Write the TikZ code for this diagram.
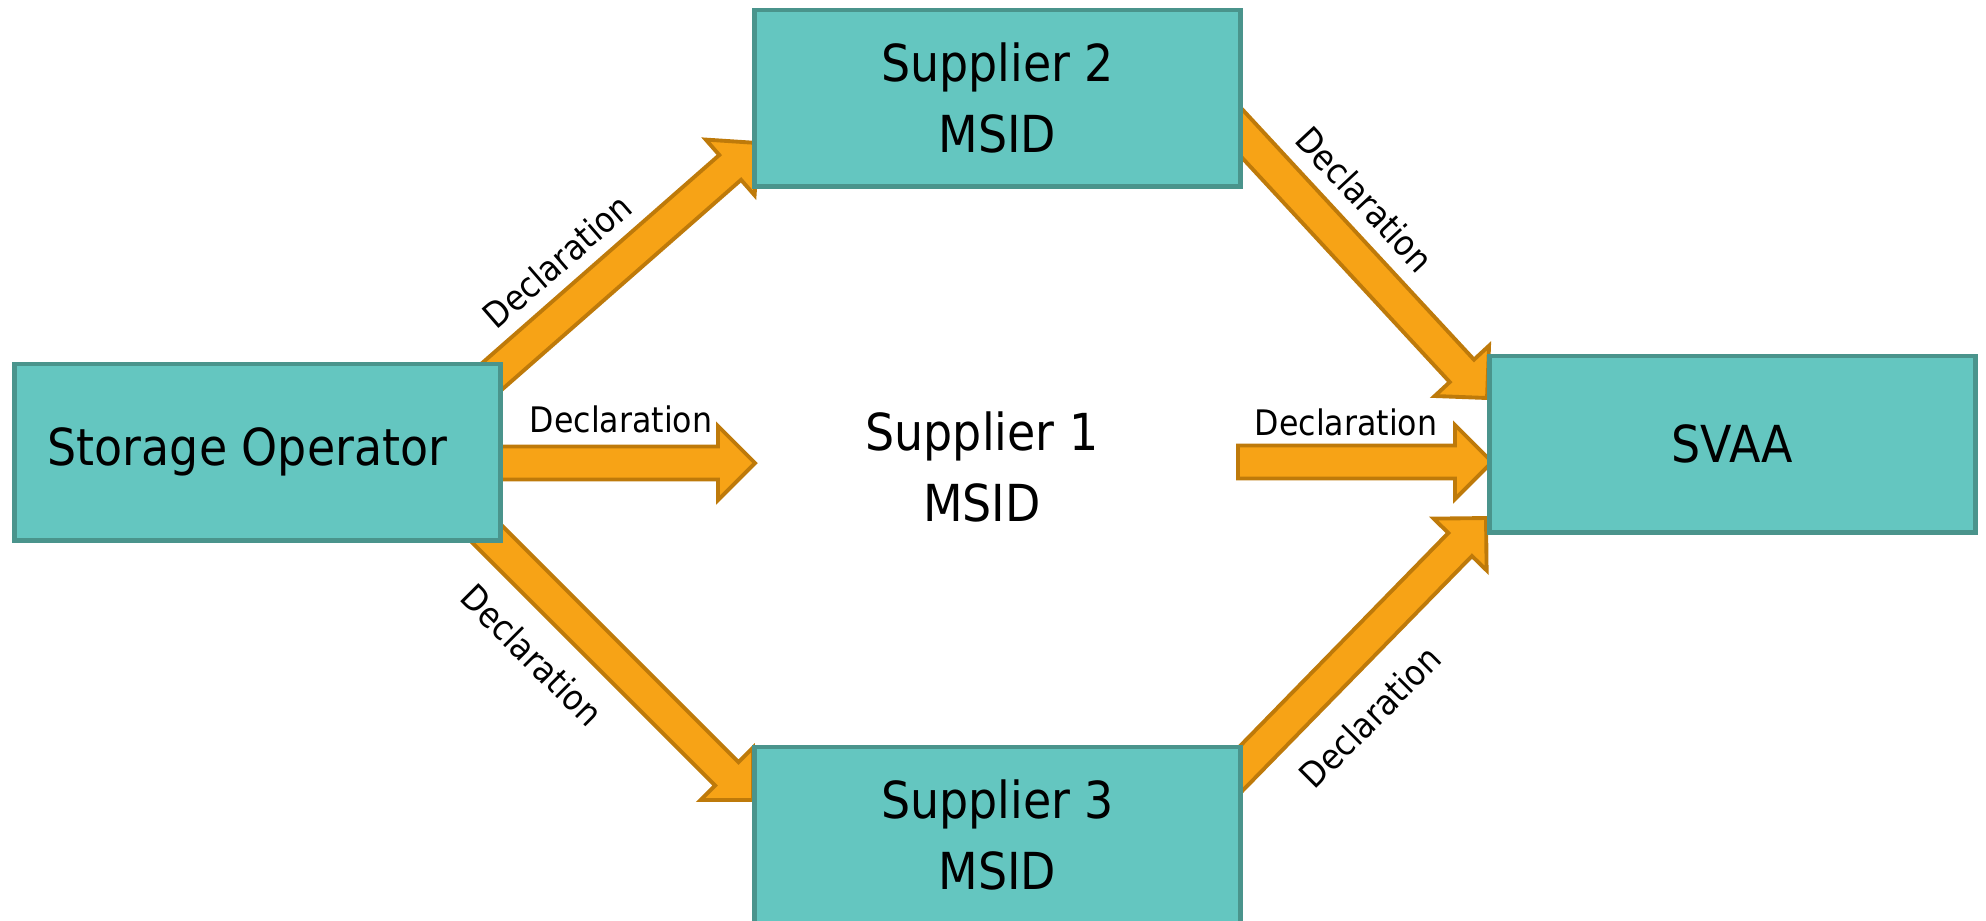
\documentclass[tikz,border=0pt]{standalone}
\usepackage{fontspec}
\setmainfont{DejaVu Sans Condensed}
\usetikzlibrary{calc, positioning}
\definecolor{boxfill}{RGB}{100,198,192}
\definecolor{boxline}{RGB}{74,148,140}
\definecolor{arrfill}{RGB}{247,163,22}
\definecolor{arrline}{RGB}{190,122,10}
\pgfdeclarelayer{back}
\pgfsetlayers{back,main}
\tikzset{party/.style={draw=boxline, fill=boxfill, line width=1.4pt, inner sep=0pt,
        minimum width=4.86cm, minimum height=1.76cm, align=center,
        font=\fontsize{14.5}{20.2}\selectfont},
    decl/.style={inner sep=0pt, font=\fontsize{10}{12}\selectfont},
    blk/.style={draw=arrline, fill=arrfill, line width=1.1pt, line join=miter}}
\newcommand{\blockarrow}[2]{%
    \coordinate (hb) at ($(#2)!0.37cm!(#1)$);
    \draw[blk] ($(#1)!0.165cm!90:(#2)$) -- ($(hb)!0.165cm!90:(#2)$)
        -- ($(hb)!0.37cm!90:(#2)$) -- (#2) -- ($(hb)!0.37cm!-90:(#2)$)
        -- ($(hb)!0.165cm!-90:(#2)$) -- ($(#1)!0.165cm!-90:(#2)$) -- cycle;}

\begin{document}
\begin{tikzpicture}[x=0.01cm, y=-0.01cm]
    \useasboundingbox (0,0) rectangle (1986,920);
    \clip (0,0) rectangle (1986,920);
    \node[party] (so) at (257.5,452) {Storage Operator\hspace*{0.2cm}};
    \node[party] (s2) at (997.5,98) {Supplier 2\\MSID};
    \node[party] (s3) at (997.5,835) {Supplier 3\\MSID};
    \node[party] (svaa) at (1732.5,444) {SVAA};
    \node[align=center, font=\fontsize{14.5}{20.2}\selectfont] (s1) at (982,467) {Supplier 1\\MSID};
    \begin{pgfonlayer}{back}
        \coordinate (a1) at ($(so)+(215.5,-59)$);
        \coordinate (b1) at ($(s2)+(-239.5,45)$);
        \coordinate (a2) at ($(so)+(232.5,11)$);
        \coordinate (b2) at ($(s1)+(-227,-4)$);
        \coordinate (a3) at ($(so)+(212.5,65)$);
        \coordinate (b3) at ($(s3)+(-244.5,-35)$);
        \coordinate (a4) at ($(s2)+(227.5,17)$);
        \coordinate (b4) at ($(svaa)+(-245.5,-46)$);
        \coordinate (a5) at ($(s1)+(256,-5)$);
        \coordinate (b5) at ($(svaa)+(-240.5,18)$);
        \coordinate (a6) at ($(s3)+(227.5,-50)$);
        \coordinate (b6) at ($(svaa)+(-246.5,74)$);
        \blockarrow{a1}{b1}
        \blockarrow{a2}{b2}
        \blockarrow{a3}{b3}
        \blockarrow{a4}{b4}
        \blockarrow{a5}{b5}
        \blockarrow{a6}{b6}
    \end{pgfonlayer}
    \node[decl, rotate=41] (l1) at (557,261) {Declaration};
    \node[decl] (l2) at (621,419) {Declaration};
    \node[decl, rotate=-45] (l3) at (532,655) {Declaration};
    \node[decl, rotate=-47] (l4) at (1365,199) {Declaration};
    \node[decl] (l5) at (1346,422) {Declaration};
    \node[decl, rotate=45] (l6) at (1370,717) {Declaration};
\end{tikzpicture}
\end{document}
